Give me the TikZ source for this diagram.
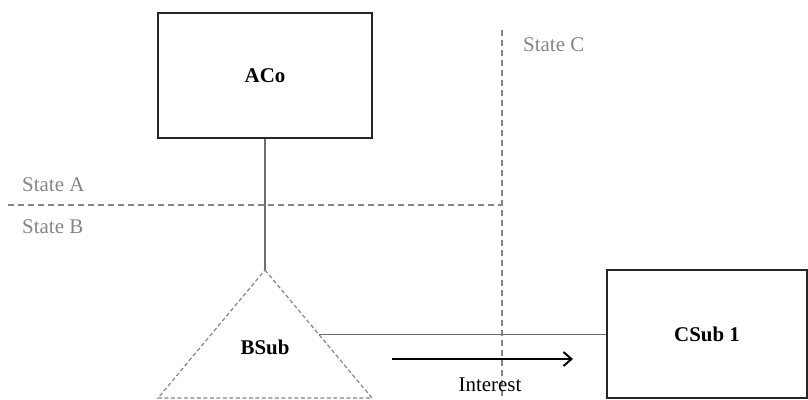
\documentclass[tikz,border=0pt]{standalone}
\usepackage{fontspec}
\setmainfont{Liberation Serif}
\usetikzlibrary{arrows.meta}
\definecolor{stategray}{HTML}{858585}
\definecolor{linegray}{HTML}{6E6E6E}
\begin{document}
\begin{tikzpicture}[x=1bp,y=-1bp,
  every node/.style={font=\fontsize{21}{25}\selectfont},
  entity/.style={draw=black!85, line width=1.6bp, fill=white, inner sep=0pt, font=\fontsize{21}{25}\selectfont\bfseries},
  boundary/.style={draw=stategray, line width=1.2bp, dash pattern=on 6bp off 4bp},
  link/.style={draw=linegray, line width=1.5bp},
  statelabel/.style={text=stategray, anchor=west, inner sep=0pt},
  flow/.style={draw=black, line width=1.8bp, -{Straight Barb[length=8bp,width=14bp,line width=2bp]}}
]
\useasboundingbox (0,0) rectangle (808,399);

% state boundaries
\coordinate (hbL) at (8,205);
\coordinate (hbR) at (502,205);
\coordinate (vbT) at (502,30);
\coordinate (vbB) at (502,399);
\draw[boundary] (hbL) -- (hbR);
\draw[boundary] (vbT) -- (vbB);

\node[statelabel] (sa) at (22,185) {State A};
\node[statelabel] (sb) at (22,227) {State B};
\node[statelabel] (sc) at (523,45) {State C};

% companies
\node[entity, minimum width=214bp, minimum height=125bp] (aco) at (265,75.5) {ACo};
\node[entity, minimum width=200bp, minimum height=128bp] (csub) at (707,334) {CSub 1};

% subsidiary in state B (dashed triangle)
\coordinate (apex) at (265,270);
\coordinate (bl) at (158,398);
\coordinate (br) at (372,398);
\draw[draw=stategray, line width=1.2bp, dash pattern=on 4bp off 2.5bp] (apex) -- (br) -- (bl) -- cycle;
\node[font=\fontsize{21}{25}\selectfont\bfseries] (bsub) at (265,347) {BSub};

% ownership links
\draw[link] (aco.south) -- (apex);
\coordinate (bsubR) at (319,334.5);
\draw[link] (bsubR) -- (csub.west |- bsubR);

% direction of interest
\coordinate (fs) at (392,359);
\coordinate (fe) at (573,359);
\draw[flow] (fs) -- (fe);
\node (interest) at (490,385) {Interest};
\end{tikzpicture}
\end{document}
